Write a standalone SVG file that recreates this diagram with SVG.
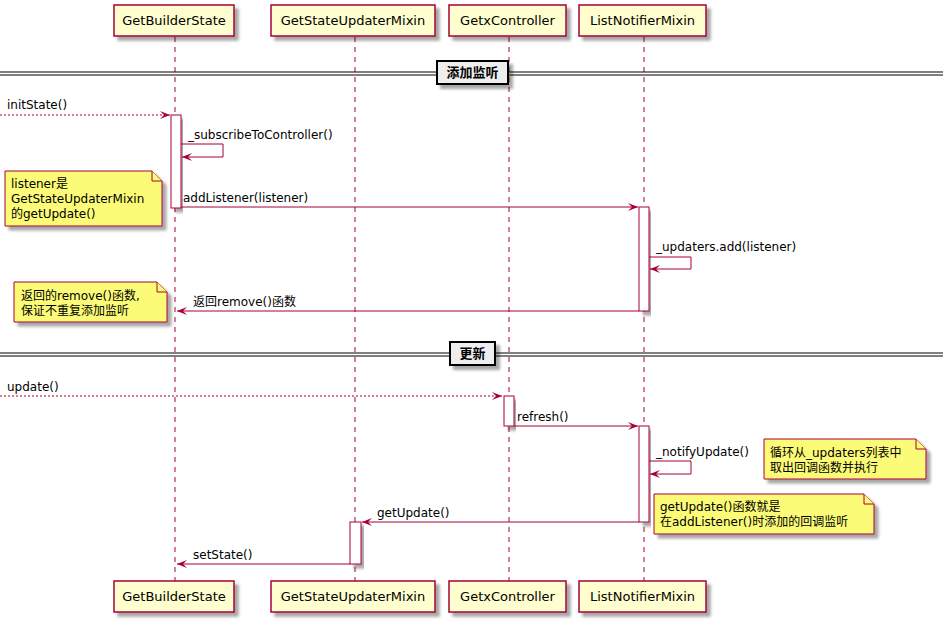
<svg xmlns="http://www.w3.org/2000/svg" width="950" height="625" viewBox="0 0 950 625">
<defs>
<filter id="sh" x="-10%" y="-10%" width="130%" height="140%">
<feGaussianBlur in="SourceAlpha" stdDeviation="1.7"/>
<feOffset dx="4" dy="4" result="b"/>
<feComponentTransfer><feFuncA type="linear" slope="0.35"/></feComponentTransfer>
<feMerge><feMergeNode/><feMergeNode in="SourceGraphic"/></feMerge>
</filter>
<marker id="ah" viewBox="0 0 10 8" refX="10" refY="4" markerWidth="10" markerHeight="8" markerUnits="userSpaceOnUse" orient="auto">
<path d="M0,0 L10,4 L0,8 L4,4 Z" fill="#A80036"/>
</marker>
<style>
text{font-family:"DejaVu Sans","Noto Sans CJK SC",sans-serif;font-size:12px;fill:#000}
.part rect{fill:#FEFECE;stroke:#A80036;stroke-width:1.5}
.part text{font-size:13px;text-anchor:middle}
.life{stroke:#A80036;stroke-width:1;stroke-dasharray:5,5}
.act{fill:#FFFFFF;stroke:#A80036;stroke-width:1}
.msg{stroke:#A80036;stroke-width:1;fill:none}
.dash{stroke-dasharray:2,2}
.note path{fill:#FBFB77;stroke:#A80036;stroke-width:1}
.div line{stroke:#000;stroke-width:1}
.div rect{fill:#EEEEEE;stroke:#000;stroke-width:2}
.div text{font-weight:bold;font-size:13px;text-anchor:middle}
</style>
</defs>
<rect width="950" height="625" fill="#FFFFFF"/>

<g id="lifelines">
<line class="life" x1="175" y1="37" x2="175" y2="581"/>
<line class="life" x1="355" y1="37" x2="355" y2="581"/>
<line class="life" x1="509" y1="37" x2="509" y2="581"/>
<line class="life" x1="644" y1="37" x2="644" y2="581"/>
</g>

<g id="divider-add" class="div">
<line x1="0" y1="72" x2="943" y2="72"/>
<line x1="0" y1="75" x2="943" y2="75"/>
<rect x="437" y="61" width="71" height="23" filter="url(#sh)"/>
<text x="472.5" y="77">添加监听</text>
</g>
<g id="divider-update" class="div">
<line x1="0" y1="353" x2="943" y2="353"/>
<line x1="0" y1="356" x2="943" y2="356"/>
<rect x="450" y="342" width="45" height="23" filter="url(#sh)"/>
<text x="472.5" y="358">更新</text>
</g>

<g id="participants-top">
<g id="p-GetBuilderState-top" class="part"><rect x="114" y="5" width="120" height="31" filter="url(#sh)"/><text x="174" y="25">GetBuilderState</text></g>
<g id="p-GetStateUpdaterMixin-top" class="part"><rect x="271" y="5" width="164" height="31" filter="url(#sh)"/><text x="353" y="25">GetStateUpdaterMixin</text></g>
<g id="p-GetxController-top" class="part"><rect x="449" y="5" width="117" height="31" filter="url(#sh)"/><text x="507.5" y="25">GetxController</text></g>
<g id="p-ListNotifierMixin-top" class="part"><rect x="579" y="5" width="127" height="31" filter="url(#sh)"/><text x="642.5" y="25">ListNotifierMixin</text></g>
</g>
<g id="participants-bottom">
<g id="p-GetBuilderState-bottom" class="part"><rect x="114" y="581" width="120" height="31" filter="url(#sh)"/><text x="174" y="601">GetBuilderState</text></g>
<g id="p-GetStateUpdaterMixin-bottom" class="part"><rect x="271" y="581" width="164" height="31" filter="url(#sh)"/><text x="353" y="601">GetStateUpdaterMixin</text></g>
<g id="p-GetxController-bottom" class="part"><rect x="449" y="581" width="117" height="31" filter="url(#sh)"/><text x="507.5" y="601">GetxController</text></g>
<g id="p-ListNotifierMixin-bottom" class="part"><rect x="579" y="581" width="127" height="31" filter="url(#sh)"/><text x="642.5" y="601">ListNotifierMixin</text></g>
</g>

<g id="activations">
<rect class="act" x="171" y="115" width="10" height="93" filter="url(#sh)"/>
<rect class="act" x="639" y="207" width="10" height="104" filter="url(#sh)"/>
<rect class="act" x="504" y="396" width="10" height="30" filter="url(#sh)"/>
<rect class="act" x="639" y="426" width="10" height="96" filter="url(#sh)"/>
<rect class="act" x="350" y="522" width="11" height="42" filter="url(#sh)"/>
</g>

<g id="connectors">
<line class="msg dash" x1="0" y1="115" x2="170" y2="115" marker-end="url(#ah)"/>
<text x="7" y="109">initState()</text>
<polyline class="msg" points="181,144 223,144 223,157 182,157" marker-end="url(#ah)"/>
<text x="188" y="139">_subscribeToController()</text>
<line class="msg" x1="181" y1="207" x2="638" y2="207" marker-end="url(#ah)"/>
<text x="183" y="202">addListener(listener)</text>
<polyline class="msg" points="649,257 691,257 691,269 650,269" marker-end="url(#ah)"/>
<text x="656" y="251">_updaters.add(listener)</text>
<line class="msg" x1="639" y1="311" x2="177" y2="311" marker-end="url(#ah)"/>
<text x="193" y="306">返回remove()函数</text>
<line class="msg dash" x1="0" y1="396" x2="502" y2="396" marker-end="url(#ah)"/>
<text x="7" y="391">update()</text>
<line class="msg" x1="514" y1="426" x2="638" y2="426" marker-end="url(#ah)"/>
<text x="517" y="421">refresh()</text>
<polyline class="msg" points="649,461 691,461 691,474 650,474" marker-end="url(#ah)"/>
<text x="656" y="456">_notifyUpdate()</text>
<line class="msg" x1="639" y1="522" x2="362" y2="522" marker-end="url(#ah)"/>
<text x="377" y="517">getUpdate()</text>
<line class="msg" x1="350" y1="564" x2="177" y2="564" marker-end="url(#ah)"/>
<text x="193" y="559">setState()</text>
</g>

<g id="note-listener" class="note">
<path d="M5,171 L152,171 L162,181 L162,226 L5,226 Z" filter="url(#sh)"/>
<path d="M152,171 L152,181 L162,181" fill="none"/>
<text x="11" y="188">listener是</text>
<text x="11" y="203">GetStateUpdaterMixin</text>
<text x="11" y="218">的getUpdate()</text>
</g>
<g id="note-remove" class="note">
<path d="M14,282 L157,282 L167,292 L167,322 L14,322 Z" filter="url(#sh)"/>
<path d="M157,282 L157,292 L167,292" fill="none"/>
<text x="21" y="300">返回的remove()函数,</text>
<text x="21" y="315">保证不重复添加监听</text>
</g>
<g id="note-loop" class="note">
<path d="M764,439 L916,439 L926,449 L926,479 L764,479 Z" filter="url(#sh)"/>
<path d="M916,439 L916,449 L926,449" fill="none"/>
<text x="770" y="457">循环从_updaters列表中</text>
<text x="770" y="472">取出回调函数并执行</text>
</g>
<g id="note-getupdate" class="note">
<path d="M654,494 L864,494 L874,504 L874,534 L654,534 Z" filter="url(#sh)"/>
<path d="M864,494 L864,504 L874,504" fill="none"/>
<text x="660" y="511">getUpdate()函数就是</text>
<text x="660" y="526">在addListener()时添加的回调监听</text>
</g>
</svg>
